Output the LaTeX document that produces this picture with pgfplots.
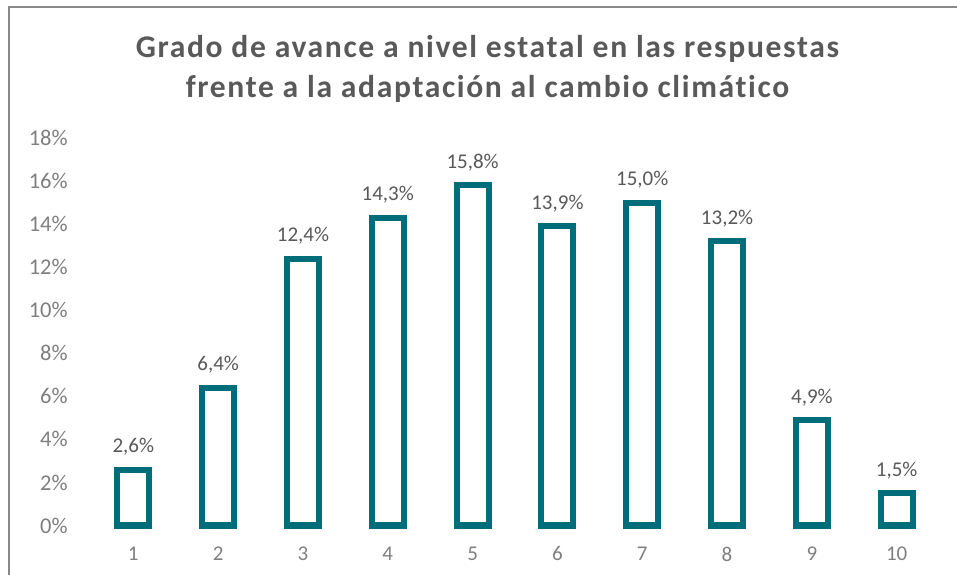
\documentclass[border=0pt]{standalone}
\usepackage{pgfplots}
\pgfplotsset{compat=1.18}
\usepackage{fontspec}
\setmainfont{Carlito}[Ligatures={NoCommon}]
\newfontfamily\titlefont{Carlito}[LetterSpace=5.2, Ligatures={NoCommon}]
\definecolor{barteal}{RGB}{0,109,122}
\definecolor{titlegray}{RGB}{89,89,89}
\definecolor{tickgray}{RGB}{127,127,127}
\definecolor{framegray}{RGB}{137,137,137}
\begin{document}
\begin{tikzpicture}
\path[use as bounding box] (0bp,0bp) rectangle (957bp,575bp);
\draw[framegray, line width=1.5bp] (9bp,-2bp) -- (9bp,568bp) -- (959bp,568bp);
\node[anchor=base, text=titlegray, font=\fontsize{31.6bp}{37bp}\titlefont\bfseries] at (487.5bp,517.7bp) {Grado de avance a nivel estatal en las respuestas};
\node[anchor=base, text=titlegray, font=\fontsize{31.6bp}{37bp}\titlefont\bfseries] at (487.5bp,477.7bp) {frente a la adaptación al cambio climático};
\begin{axis}[
  at={(90.9bp,49.5bp)}, anchor=south west,
  scale only axis, width=848.2bp, height=387.5bp,
  xmin=0.5, xmax=10.5, ymin=0, ymax=18,
  clip=false,
  axis line style={draw=none},
  major tick length=0pt,
  ytick={0,2,...,18},
  xtick={1,...,10},
  /pgf/number format/assume math mode=true,
  yticklabel={\pgfmathprintnumber{\tick}\%},
  yticklabel style={anchor=east, inner sep=0pt, xshift=-23bp, text=tickgray, font=\fontsize{22.5bp}{26bp}\selectfont},
  xticklabel style={anchor=north, inner sep=0pt, yshift=-21bp, text=tickgray, font=\fontsize{21bp}{25bp}\selectfont},
  ybar,
  bar width=32bp,
  nodes near coords={\pgfmathprintnumber[fixed,fixed zerofill,precision=1,use comma]{\pgfplotspointmeta}\%},
  every node near coord/.append style={anchor=base, yshift=17bp, inner sep=0pt, text=titlegray, font=\fontsize{21bp}{25bp}\selectfont},
]
\addplot[ybar, draw=barteal, fill=white, line width=6bp] coordinates {
(1,2.6) (2,6.4) (3,12.4) (4,14.3) (5,15.8) (6,13.9) (7,15.0) (8,13.2) (9,4.9) (10,1.5)
};
\end{axis}
\end{tikzpicture}
\end{document}
